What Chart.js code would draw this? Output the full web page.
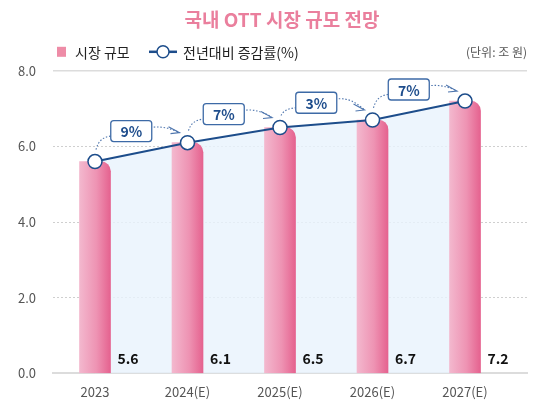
<!DOCTYPE html>
<html><head><meta charset="utf-8">
<script src="https://cdn.jsdelivr.net/npm/chart.js@4"></script>
<style>html,body{margin:0;padding:0;background:#fff;}#wrap{width:549px;height:413px;position:relative;}</style>
</head><body><div id="wrap"><canvas id="c"></canvas></div>
<script>
const categories = ['2023', '2024(E)', '2025(E)', '2026(E)', '2027(E)'];
const marketSize = [5.6, 6.1, 6.5, 6.7, 7.2];
const growthLabels = ['9%', '7%', '3%', '7%'];
const yTickValues = [0, 2, 4, 6, 8];
const seriesNames = ['시장 규모', '전년대비 증감률(%)'];
const titleText = '국내 OTT 시장 규모 전망';
const unitText = '(단위: 조 원)';

const KR = "'Noto Sans CJK KR', 'Noto Sans', sans-serif";
const PINK = '#ee8ca7';
const NAVY = '#1d4d8b';

const barPoints = categories.map((c, i) => ({x: i, y: marketSize[i]}));
const linePoints = categories.map((c, i) => ({x: i, y: marketSize[i]}));

const decorPlugin = {
  id: 'decor',
  beforeDatasetsDraw(chart) {
    const {ctx, chartArea, scales} = chart;
    const y = scales.y.getPixelForValue(yTickValues[yTickValues.length - 1]);
    ctx.save();
    ctx.strokeStyle = '#dcdcdc';
    ctx.lineWidth = 1.5;
    ctx.beginPath();
    ctx.moveTo(chartArea.left, y);
    ctx.lineTo(chartArea.right, y);
    ctx.stroke();
    ctx.restore();
  },
  afterDraw(chart) {
    const {ctx, chartArea, scales} = chart;
    ctx.save();
    const ly = chartArea.top - 19;
    const lx = chartArea.left;
    ctx.fillStyle = PINK;
    ctx.fillRect(lx + 4, ly - 5, 9, 10);
    ctx.font = '14px ' + KR;
    ctx.fillStyle = '#222';
    ctx.textAlign = 'left';
    ctx.textBaseline = 'middle';
    ctx.fillText(seriesNames[0], lx + 22, ly + 0.5);
    ctx.strokeStyle = NAVY;
    ctx.lineWidth = 2.5;
    ctx.beginPath();
    ctx.moveTo(lx + 96, ly);
    ctx.lineTo(lx + 124, ly);
    ctx.stroke();
    ctx.beginPath();
    ctx.arc(lx + 110, ly, 6, 0, Math.PI * 2);
    ctx.fillStyle = '#fff';
    ctx.fill();
    ctx.lineWidth = 1.5;
    ctx.stroke();
    ctx.fillStyle = '#222';
    ctx.fillText(seriesNames[1], lx + 130, ly + 0.5);
    ctx.font = '12px ' + KR;
    ctx.fillStyle = '#555';
    ctx.textAlign = 'right';
    ctx.fillText(unitText, chartArea.right, ly + 1);

    const barMeta = chart.getDatasetMeta(0);
    const y0 = scales.y.getPixelForValue(0);
    ctx.font = 'bold 14px ' + KR;
    ctx.fillStyle = '#111';
    ctx.textAlign = 'left';
    barMeta.data.forEach((el, i) => {
      ctx.fillText(marketSize[i].toFixed(1), el.x + el.width / 2 + 7, y0 - 15);
    });

    const lineMeta = chart.getDatasetMeta(1);
    const pts = lineMeta.data;
    for (let i = 0; i < growthLabels.length; i++) {
      const p1 = pts[i], p2 = pts[i + 1];
      const cx = (p1.x + p2.x) / 2 - 10;
      const cy = (p1.y + p2.y) / 2 - 21;
      const w = 41, h = 21;
      ctx.strokeStyle = '#4f76ae';
      ctx.lineWidth = 1.1;
      ctx.setLineDash([1.5, 1.8]);
      ctx.beginPath();
      ctx.moveTo(p1.x + 1, p1.y - 12);
      ctx.quadraticCurveTo(p1.x + 4, cy + 6, cx - w / 2, cy + 5);
      ctx.stroke();
      const sx = cx + w / 2 + 2, sy = cy - 4;
      const tx = p2.x - 8, ty = p2.y - 10;
      ctx.beginPath();
      ctx.moveTo(sx, sy);
      ctx.quadraticCurveTo((sx + tx) / 2, sy - 1, tx, ty);
      ctx.stroke();
      ctx.setLineDash([]);
      ctx.beginPath();
      ctx.moveTo(tx - 11, ty - 6);
      ctx.lineTo(tx, ty);
      ctx.lineTo(tx - 9, ty + 1);
      ctx.stroke();
      ctx.beginPath();
      ctx.roundRect(cx - w / 2, cy - h / 2, w, h, 3);
      ctx.fillStyle = '#fff';
      ctx.fill();
      ctx.strokeStyle = '#3d6aa6';
      ctx.lineWidth = 1.3;
      ctx.stroke();
      ctx.fillStyle = '#1e4d8c';
      ctx.font = 'bold 14px ' + KR;
      ctx.textAlign = 'center';
      ctx.fillText(growthLabels[i], cx, cy + 1);
    }
    ctx.restore();
  }
};

new Chart(document.getElementById('c'), {
  type: 'bar',
  data: {
    datasets: [
      {
        type: 'bar',
        label: seriesNames[0],
        data: barPoints,
        order: 2,
        barThickness: 31,
        borderRadius: {topLeft: 0, topRight: 10, bottomLeft: 0, bottomRight: 0},
        borderSkipped: false,
        backgroundColor: (c) => {
          const chart = c.chart;
          const xs = chart.scales && chart.scales.x;
          if (!xs || c.dataIndex === undefined || !chart.chartArea) return PINK;
          const cx = xs.getPixelForValue(c.dataIndex);
          const g = chart.ctx.createLinearGradient(cx - 15.5, 0, cx + 15.5, 0);
          g.addColorStop(0, '#f3b8ce');
          g.addColorStop(0.55, '#ee93b3');
          g.addColorStop(1, '#e5628f');
          return g;
        }
      },
      {
        type: 'line',
        label: seriesNames[1],
        data: linePoints,
        order: 1,
        borderColor: NAVY,
        borderWidth: 2,
        tension: 0,
        fill: 'origin',
        backgroundColor: 'rgba(232,242,252,0.8)',
        pointRadius: 7,
        pointHoverRadius: 7,
        pointBorderWidth: 1.5,
        pointBackgroundColor: '#fff',
        pointBorderColor: NAVY
      }
    ]
  },
  options: {
    responsive: true,
    maintainAspectRatio: false,
    animation: false,
    layout: {padding: {left: 15, right: 0, top: 0, bottom: 2}},
    plugins: {
      legend: {display: false},
      tooltip: {enabled: false},
      filler: {drawTime: 'beforeDatasetsDraw'},
      title: {
        display: true,
        text: titleText,
        color: '#ea7f9d',
        font: {family: KR, size: 19, weight: 'bold'},
        padding: {top: 8, bottom: 40}
      }
    },
    scales: {
      x: {
        type: 'linear',
        min: -0.454,
        max: 4.67,
        offset: false,
        bounds: 'data',
        afterBuildTicks: (s) => { s.ticks = categories.map((c, i) => ({value: i})); },
        grid: {display: false, drawTicks: false, offset: false},
        border: {display: true, color: '#dcdcdc', width: 2},
        ticks: {
          autoSkip: false,
          maxRotation: 0,
          minRotation: 0,
          padding: 11,
          color: '#555',
          font: {family: KR, size: 13},
          callback: (v, i) => categories[i] !== undefined ? categories[i] : ''
        }
      },
      y: {
        type: 'linear',
        min: yTickValues[0],
        max: yTickValues[yTickValues.length - 1],
        afterFit: (s) => { s.width = 38; },
        afterBuildTicks: (s) => { s.ticks = yTickValues.map(v => ({value: v})); },
        grid: {
          drawTicks: false,
          lineWidth: 1,
          color: (c) => (c.tick && (c.tick.value === 0 || c.tick.value === 8)) ? 'rgba(0,0,0,0)' : '#cfcfcf'
        },
        border: {display: false, dash: [2, 2]},
        ticks: {
          padding: 17,
          color: '#555',
          font: {family: KR, size: 13},
          callback: (v) => Number(v).toFixed(1)
        }
      },
      yr: {
        type: 'linear',
        position: 'right',
        display: true,
        afterFit: (s) => { s.width = 22; },
        grid: {display: false, drawTicks: false},
        border: {display: false},
        ticks: {display: false}
      }
    }
  },
  plugins: [decorPlugin]
});
</script>
</body></html>
